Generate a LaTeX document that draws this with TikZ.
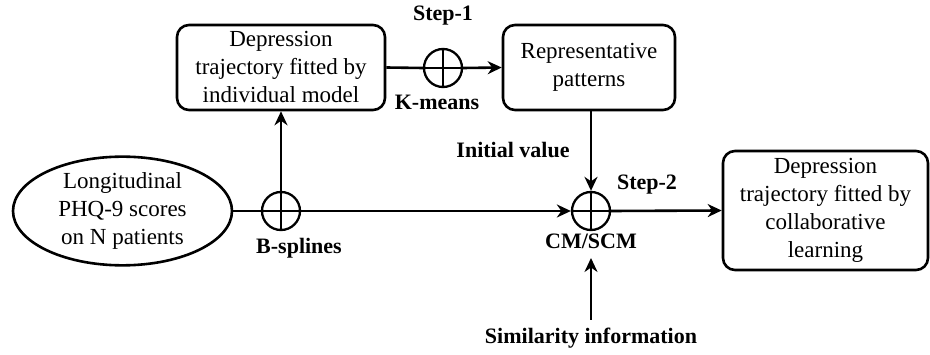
\documentclass[tikz,border=0pt]{standalone}
\usepackage{fontspec}
\setmainfont{Liberation Serif}
\newfontfamily\tms{Liberation Serif}
\usetikzlibrary{arrows.meta,shapes.geometric}
\begin{document}
\begin{tikzpicture}[x=1pt,y=-1pt,line width=2.6pt,
  >={Stealth[length=14pt,width=13pt,inset=4.5pt]},
  txt/.style={font=\tms\fontsize{23}{28}\selectfont, align=center},
  box/.style={txt, draw, rounded corners=12pt, inner sep=0pt},
  lab/.style={font=\tms\fontsize{22}{24}\selectfont\bfseries, inner sep=0pt},
  circ/.style={draw, circle, minimum size=38pt, inner sep=0pt, line width=2.3pt}]
\useasboundingbox (0,0) rectangle (930,355);
% nodes
\node[txt, draw, ellipse, minimum width=219pt, minimum height=94pt, inner sep=0pt] (ell) at (122.5,211) {Longitudinal\\PHQ-9 scores\\on N patients};
\node[circ] (bs) at (281,211) {};
\node[box, minimum width=208pt, minimum height=85pt] (box1) at (281,67.5) {Depression\\trajectory fitted by\\individual model};
\node[circ] (km) at (443,68) {};
\node[box, minimum width=172pt, minimum height=85pt] (box2) at (589,67.5) {Representative\\patterns};
\node[circ] (cm) at (591,211) {};
\node[box, minimum width=205pt, minimum height=119pt] (box3) at (825.5,210.5) {Depression\\trajectory fitted by\\collaborative\\learning};
% crosses
\foreach \c in {bs,km,cm}{
  \draw[line width=2.3pt] (\c.north) -- (\c.south) (\c.west) -- (\c.east);
}
% labels
\node[lab] (step1) at (443,16) {Step-1};
\node[lab] (kmeans) at (437,102) {K-means};
\node[lab] (init) at (513,150) {Initial value};
\node[lab] (bspl) at (299,248) {B-splines};
\node[lab] (step2) at (647,185) {Step-2};
\node[lab] (cmscm) at (591,241) {CM/SCM};
\node[lab] (sim) at (591,338) {Similarity information};
\coordinate (simtop) at (591,320);
\coordinate (simtip) at (591,258);
% connectors
\draw (ell.east) -- (bs.west);
\draw[->] (bs.east) -- (cm.west);
\draw[->] (bs.north) -- (box1.south);
\draw (box1.east) -- (km.west);
\draw[->] (km.east) -- (box2.west);
\draw[->] (cm.north |- box2.south) -- (cm.north);
\draw[->] (cm.east) -- (box3.west);
\draw[->] (simtop) -- (simtip);
\end{tikzpicture}
\end{document}
